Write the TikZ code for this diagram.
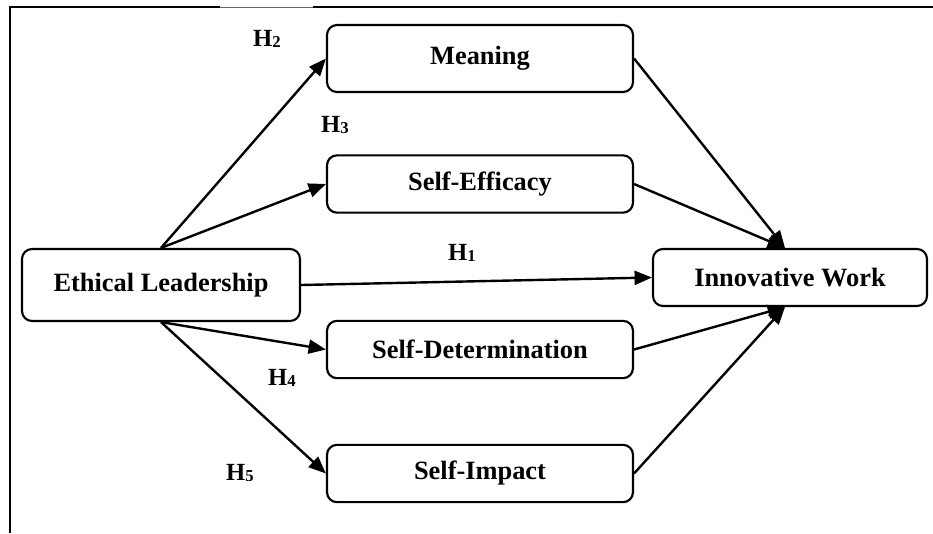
\documentclass[tikz,border=0pt]{standalone}
\usepackage{fontspec}
\setmainfont{Liberation Serif}
\usetikzlibrary{arrows.meta}
\newcommand{\hyplabel}[1]{\textbf{H\raisebox{-1pt}{\fontsize{12.5}{12.5}\selectfont #1}}}
\tikzset{
  box/.style={draw, line width=1.6pt, rounded corners=7.5pt, inner sep=0pt,
    font=\fontsize{19.8}{22}\selectfont\bfseries, align=center},
  smallbox/.style={box, minimum width=229.5pt, minimum height=43pt},
  link/.style={line width=1.8pt, -{Triangle[length=13pt,width=10.5pt]}},
  hlab/.style={inner sep=0pt, font=\fontsize{18.5}{20}\selectfont},
  frame/.style={line width=1.9pt},
}
\begin{document}
\begin{tikzpicture}[x=0.75pt, y=-0.75pt]
\useasboundingbox (0,0) rectangle (933,533);
% outer frame (partial)
\draw[frame] (10,533) -- (10,7) -- (220,7);
\draw[line width=0.6pt, black!60] (220,7) -- (313,7);
\draw[frame] (313,7) -- (933,7);

% nodes
\node[box, minimum width=208.5pt, minimum height=54pt] (el) at (161,285) {Ethical Leadership};
\node[box, minimum width=229.5pt, minimum height=50.25pt] (me) at (480,58.5) {Meaning};
\node[smallbox] (se) at (480,184) {Self-Efficacy};
\node[smallbox] (sd) at (480,349.5) {Self-Determination};
\node[smallbox] (si) at (480,473.5) {Self-Impact};
\node[box, minimum width=205.5pt, minimum height=42.75pt] (iw) at (790,277.5) {Innovative Work};

% connectors
\draw[link] (el.north) -- (me.west);
\draw[link] (el.north) -- (se.west);
\draw[link] (el.east) -- (iw.west);
\draw[link] (el.south) -- (sd.west);
\draw[link] (el.south) -- (si.west);
\draw[link] (me.east) -- ([xshift=-3.75pt]iw.north);
\draw[link] (se.east) -- ([xshift=-3.75pt]iw.north);
\draw[link] (sd.east) -- ([xshift=-3.75pt]iw.south);
\draw[link] (si.east) -- ([xshift=-3.75pt]iw.south);

% hypothesis labels
\node[hlab] (h2) at (267,39) {\hyplabel{2}};
\node[hlab] (h3) at (335,125) {\hyplabel{3}};
\node[hlab] (h1) at (462,253) {\hyplabel{1}};
\node[hlab] (h4) at (282,378) {\hyplabel{4}};
\node[hlab] (h5) at (240,473) {\hyplabel{5}};
\end{tikzpicture}
\end{document}
